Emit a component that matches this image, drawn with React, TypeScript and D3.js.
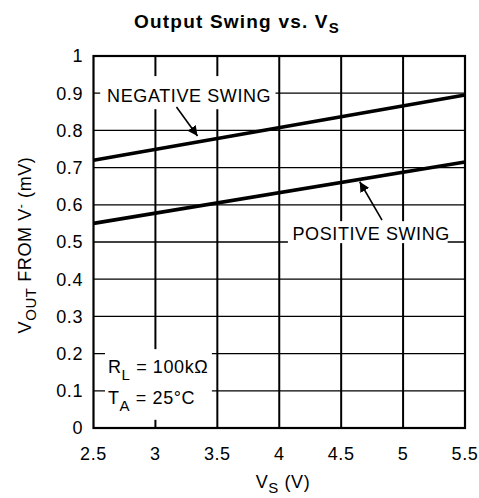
import React, { useEffect, useRef } from "react";
import * as d3 from "d3";

// supply voltage (V) at the two ends of each curve
const vs = [2.5, 5.5];
const negativeSwing = [0.72, 0.895];
const positiveSwing = [0.55, 0.715];

const xTicks = [2.5, 3, 3.5, 4, 4.5, 5, 5.5];
const yTicks = [0, 0.1, 0.2, 0.3, 0.4, 0.5, 0.6, 0.7, 0.8, 0.9, 1];

const W = 479;
const H = 498;
const FONT = "'Liberation Sans', Arial, Helvetica, sans-serif";

function App() {
  const svgRef = useRef<SVGSVGElement>(null);

  useEffect(() => {
    const margin = { top: 56, right: 14, bottom: 70, left: 93.5 };
    const svg = d3.select(svgRef.current).attr("width", W).attr("height", H);
    svg.selectAll("*").remove();

    const x = d3.scaleLinear().domain([2.5, 5.5]).range([margin.left, W - margin.right]);
    const y = d3.scaleLinear().domain([0, 1]).range([H - margin.bottom, margin.top]);

    svg
      .append("defs")
      .append("marker")
      .attr("id", "head")
      .attr("viewBox", "0 0 10 10")
      .attr("refX", 10)
      .attr("refY", 5)
      .attr("markerWidth", 10)
      .attr("markerHeight", 10)
      .attr("markerUnits", "userSpaceOnUse")
      .attr("orient", "auto")
      .append("path")
      .attr("d", "M0,0L10,5L0,10Z")
      .attr("fill", "#000");

    // grid
    svg
      .append("g")
      .selectAll("line")
      .data(yTicks.slice(1, -1))
      .join("line")
      .attr("x1", x(2.5))
      .attr("x2", x(5.5))
      .attr("y1", (d) => y(d))
      .attr("y2", (d) => y(d))
      .attr("stroke", "#000")
      .attr("stroke-width", 1.3);
    svg
      .append("g")
      .selectAll("line")
      .data(xTicks.slice(1, -1))
      .join("line")
      .attr("x1", (d) => x(d))
      .attr("x2", (d) => x(d))
      .attr("y1", y(0))
      .attr("y2", y(1))
      .attr("stroke", "#000")
      .attr("stroke-width", 2);

    // white boxes behind the labels
    const boxes = [
      [2.554, 3.97, 0.946, 0.857],
      [4.07, 5.36, 0.556, 0.497],
      [2.593, 3.456, 0.212, 0.022],
    ];
    svg
      .append("g")
      .selectAll("rect")
      .data(boxes)
      .join("rect")
      .attr("x", (d) => x(d[0]))
      .attr("y", (d) => y(d[2]))
      .attr("width", (d) => x(d[1]) - x(d[0]))
      .attr("height", (d) => y(d[3]) - y(d[2]))
      .attr("fill", "#fff");

    // frame
    svg
      .append("rect")
      .attr("x", x(2.5))
      .attr("y", y(1))
      .attr("width", x(5.5) - x(2.5))
      .attr("height", y(0) - y(1))
      .attr("fill", "none")
      .attr("stroke", "#000")
      .attr("stroke-width", 2.2);

    // curves
    const line = d3
      .line<number>()
      .x((d, i) => x(vs[i]))
      .y((d) => y(d));
    [negativeSwing, positiveSwing].forEach((s) => {
      svg
        .append("path")
        .attr("d", line(s))
        .attr("fill", "none")
        .attr("stroke", "#000")
        .attr("stroke-width", 3.6);
    });

    // arrows
    const arrows = [
      [3.17, 0.863, 3.34, 0.785],
      [4.83, 0.559, 4.65, 0.662],
    ];
    svg
      .append("g")
      .selectAll("line")
      .data(arrows)
      .join("line")
      .attr("x1", (d) => x(d[0]))
      .attr("y1", (d) => y(d[1]))
      .attr("x2", (d) => x(d[2]))
      .attr("y2", (d) => y(d[3]))
      .attr("stroke", "#000")
      .attr("stroke-width", 1.6)
      .attr("marker-end", "url(#head)");

    const txt = svg
      .append("g")
      .attr("font-family", FONT)
      .attr("font-size", 18)
      .attr("letter-spacing", 0.6)
      .attr("fill", "#000");

    txt.append("text").attr("x", x(2.61)).attr("y", y(0.876)).text("NEGATIVE SWING");
    txt.append("text").attr("x", x(4.107)).attr("y", y(0.506)).text("POSITIVE SWING");

    const rl = txt.append("text").attr("x", x(2.617)).attr("y", y(0.148));
    rl.append("tspan").text("R");
    rl.append("tspan").attr("dy", 7).attr("font-size", 15).text("L");
    rl.append("tspan").attr("dy", -7).text(" = 100kΩ");
    const ta = txt.append("text").attr("x", x(2.617)).attr("y", y(0.065));
    ta.append("tspan").text("T");
    ta.append("tspan").attr("dy", 7).attr("font-size", 15).text("A");
    ta.append("tspan").attr("dy", -7).text(" = 25°C");

    // tick labels
    txt
      .append("g")
      .selectAll("text")
      .data(xTicks)
      .join("text")
      .attr("x", (d) => x(d))
      .attr("y", 460)
      .attr("text-anchor", "middle")
      .text((d) => String(d));
    txt
      .append("g")
      .selectAll("text")
      .data(yTicks)
      .join("text")
      .attr("x", 83)
      .attr("y", (d) => y(d))
      .attr("dy", "0.36em")
      .attr("text-anchor", "end")
      .text((d) => String(d));

    // axis titles
    const xl = txt.append("text").attr("x", 283).attr("y", 488).attr("text-anchor", "middle");
    xl.append("tspan").text("V");
    xl.append("tspan").attr("dy", 5).attr("font-size", 15).text("S");
    xl.append("tspan").attr("dy", -5).text(" (V)");

    const yl = txt
      .append("text")
      .attr("transform", `translate(31,${y(0.5) + 3}) rotate(-90)`)
      .attr("text-anchor", "middle");
    yl.append("tspan").text("V");
    yl.append("tspan").attr("dy", 5).attr("font-size", 15).text("OUT");
    yl.append("tspan").attr("dy", -5).text(" FROM V");
    yl.append("tspan").attr("dy", -6).attr("font-size", 12).text("-");
    yl.append("tspan").attr("dy", 6).text(" (mV)");

    const title = txt
      .append("text")
      .attr("x", 237)
      .attr("y", 28)
      .attr("text-anchor", "middle")
      .attr("font-weight", "bold")
      .attr("font-size", 19)
      .attr("letter-spacing", 1.2);
    title.append("tspan").text("Output Swing vs. V");
    title.append("tspan").attr("dy", 5).attr("font-size", 15).text("S");
  }, []);

  return <svg ref={svgRef} style={{ position: "absolute", left: 0, top: 0 }}></svg>;
}

export default App;
